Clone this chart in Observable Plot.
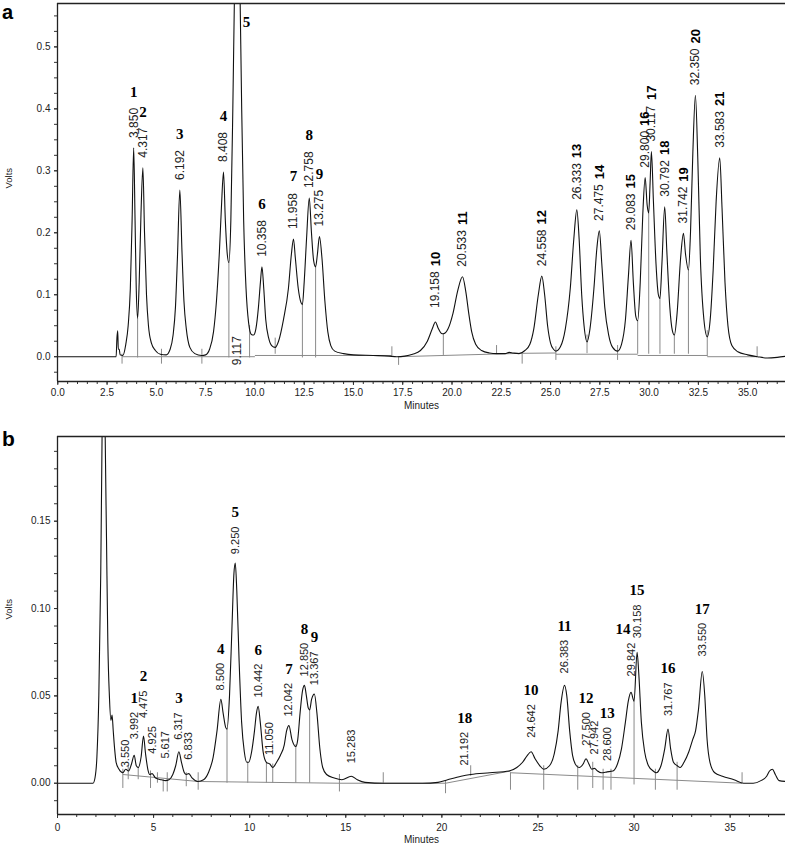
<!DOCTYPE html>
<html><head><meta charset="utf-8">
<script src="https://cdn.jsdelivr.net/npm/d3@7"></script>
<script src="https://cdn.jsdelivr.net/npm/@observablehq/plot@0.6"></script>
<style>
body{margin:0;background:#fff;}
#wrap{position:relative;width:787px;height:848px;overflow:hidden;background:#fff;}
#wrap svg{position:absolute;left:0;}
</style></head><body><div id="wrap"></div>
<script>
// ---------------- Panel a data ----------------
const traceA = [
[0.0,0],[2.96,0],[3.0,0.03],[3.04,0.042],[3.07,0.012],[3.12,0.012],[3.16,0.003],[3.3,0.002],
[3.45,0.02],[3.57,0.05],[3.68,0.11],[3.77,0.22],[3.85,0.337],[3.92,0.22],[3.98,0.11],[4.05,0.062],
[4.13,0.12],[4.22,0.23],[4.317,0.305],[4.4,0.2],[4.5,0.1],[4.6,0.05],[4.75,0.022],[4.95,0.01],[5.2,0.004],[5.5,0.003],
[5.7,0.012],[5.85,0.035],[5.97,0.08],[6.07,0.16],[6.192,0.269],[6.3,0.17],[6.4,0.09],[6.52,0.045],[6.7,0.015],[6.95,0.005],[7.3,0.002],
[7.5,0.003],[7.7,0.012],[7.9,0.04],[8.05,0.09],[8.2,0.17],[8.3,0.24],[8.408,0.298],[8.5,0.22],[8.6,0.165],[8.68,0.152],
[8.78,0.22],[8.88,0.4],[8.98,0.62],[9.117,0.8],[9.23,0.62],[9.33,0.4],[9.43,0.22],[9.55,0.11],[9.68,0.055],[9.82,0.036],[9.93,0.035],
[10.05,0.045],[10.18,0.08],[10.28,0.12],[10.358,0.145],[10.45,0.11],[10.55,0.06],[10.7,0.03],[10.85,0.018],[11.03,0.015],
[11.2,0.025],[11.45,0.06],[11.7,0.11],[11.85,0.165],[11.958,0.19],[12.05,0.16],[12.2,0.11],[12.33,0.088],[12.41,0.084],
[12.5,0.12],[12.62,0.19],[12.758,0.256],[12.87,0.2],[12.98,0.155],[13.08,0.145],[13.17,0.165],[13.275,0.194],[13.4,0.16],[13.55,0.09],
[13.7,0.04],[13.85,0.018],[14.05,0.009],[14.5,0.005],[15.0,0.003],[16.0,0.002],[16.8,0.001],[17.2,0.0],[17.6,0.001],
[18.0,0.004],[18.4,0.01],[18.75,0.025],[19.0,0.045],[19.158,0.056],[19.3,0.046],[19.45,0.038],[19.56,0.037],[19.8,0.045],[20.05,0.07],
[20.3,0.108],[20.533,0.129],[20.7,0.105],[20.85,0.07],[21.0,0.04],[21.2,0.02],[21.5,0.01],[21.9,0.006],[22.26,0.005],[22.7,0.005],
[22.9,0.007],[23.1,0.006],[23.4,0.005],[23.7,0.01],[23.95,0.02],[24.15,0.045],[24.38,0.1],[24.558,0.13],[24.7,0.1],[24.85,0.05],
[25.0,0.022],[25.15,0.012],[25.27,0.009],[25.5,0.016],[25.75,0.045],[26.0,0.11],[26.18,0.19],[26.333,0.237],[26.45,0.19],[26.58,0.1],
[26.7,0.05],[26.85,0.024],[27.0,0.045],[27.2,0.11],[27.35,0.175],[27.475,0.203],[27.6,0.15],[27.75,0.08],[27.95,0.035],[28.15,0.015],
[28.4,0.009],[28.6,0.02],[28.8,0.06],[28.95,0.13],[29.083,0.188],[29.2,0.12],[29.32,0.066],[29.42,0.058],[29.55,0.12],[29.68,0.23],
[29.8,0.289],[29.9,0.245],[29.98,0.232],[30.05,0.28],[30.117,0.331],[30.22,0.25],[30.35,0.15],[30.47,0.1],[30.55,0.094],
[30.65,0.15],[30.792,0.242],[30.9,0.17],[31.05,0.08],[31.18,0.042],[31.28,0.035],[31.42,0.07],[31.6,0.16],[31.742,0.199],[31.85,0.165],
[31.995,0.14],[32.1,0.2],[32.22,0.33],[32.35,0.422],[32.47,0.32],[32.6,0.16],[32.78,0.06],[32.95,0.032],[33.1,0.06],[33.25,0.14],
[33.4,0.25],[33.583,0.321],[33.7,0.24],[33.85,0.12],[34.0,0.05],[34.2,0.018],[34.5,0.008],[35.0,0.003],[35.5,0.0],[36.0,-0.002],
[36.5,-0.001],[37.0,0.001]
];
const peakTimeA   = [3.850,4.317,6.192,8.408,9.117,10.358,11.958,12.758,13.275,19.158,20.533,24.558,26.333,27.475,29.083,29.800,30.117,30.792,31.742,32.350,33.583];
const peakHeightA = [0.337,0.305,0.269,0.298,0.8,0.145,0.19,0.256,0.194,0.056,0.129,0.13,0.237,0.203,0.188,0.289,0.331,0.242,0.199,0.422,0.321];
const peakNumA    = [1,2,3,4,5,6,7,8,9,10,11,12,13,14,15,16,17,18,19,20,21];
// integration marks: [time, from, to]
const eventsA = [[3.26,-0.012,0.004],[4.05,-0.002,0.062],[5.26,-0.012,0.012],[7.31,-0.012,0.012],[8.68,-0.002,0.152],[9.73,-0.002,0.05],
[11.03,0.004,0.03],[12.41,-0.002,0.084],[13.08,-0.002,0.145],[16.95,0.001,0.016],[17.29,-0.014,0.0],[19.56,0.002,0.037],[22.26,0.004,0.018],
[23.56,-0.012,0.006],[25.27,-0.006,0.016],[26.85,0.005,0.035],[28.4,-0.006,0.018],[29.42,0.004,0.058],[29.98,0.004,0.232],[30.55,0.004,0.094],
[31.28,0.004,0.035],[31.995,0.004,0.14],[32.95,0.0,0.042],[35.48,0.0,0.016]];
const baselineA = [[3.26,0,10.0,0],[10.0,0.002,16.95,0.002],[17.29,0,23.56,0.0055],[23.56,0.0055,25.27,0.006],[25.27,0.004,29.42,0.004],
[29.42,0.002,32.95,0.002],[32.95,0.0,35.48,0.0]];

// ---------------- Panel b data ----------------
const traceB = [
[0,0],[1.85,0],[1.95,0.003],[2.05,0.015],[2.15,0.05],[2.25,0.12],[2.32,0.2],[2.4,0.3],[2.48,0.2],[2.55,0.14],[2.62,0.08],[2.7,0.05],
[2.78,0.036],[2.84,0.039],[2.9,0.03],[2.97,0.02],[3.05,0.012],[3.2,0.008],[3.4,0.006],[3.55,0.008],[3.7,0.007],[3.85,0.011],[3.992,0.016],
[4.1,0.01],[4.2,0.009],[4.35,0.015],[4.475,0.027],[4.58,0.017],[4.7,0.008],[4.8,0.005],[4.925,0.0055],[5.1,0.003],[5.4,0.002],[5.617,0.0015],
[5.8,0.002],[6.0,0.005],[6.15,0.01],[6.317,0.018],[6.45,0.012],[6.6,0.006],[6.7,0.005],[6.833,0.0055],[7.0,0.003],[7.3,0.001],[7.6,0.002],
[7.85,0.006],[8.1,0.015],[8.3,0.03],[8.5,0.048],[8.62,0.04],[8.75,0.032],[8.82,0.031],[8.95,0.05],[9.08,0.09],[9.18,0.12],[9.25,0.126],
[9.33,0.11],[9.45,0.07],[9.58,0.035],[9.72,0.018],[9.85,0.012],[9.95,0.012],[10.1,0.018],[10.25,0.03],[10.35,0.04],[10.442,0.044],
[10.55,0.035],[10.7,0.018],[10.87,0.012],[11.05,0.011],[11.2,0.009],[11.4,0.012],[11.6,0.016],[11.8,0.022],[11.92,0.03],[12.042,0.033],
[12.2,0.025],[12.4,0.021],[12.5,0.025],[12.62,0.04],[12.75,0.053],[12.85,0.056],[12.95,0.05],[13.05,0.043],[13.12,0.042],[13.22,0.048],
[13.367,0.051],[13.5,0.04],[13.65,0.02],[13.8,0.009],[14.0,0.005],[14.4,0.003],[14.8,0.002],[15.283,0.004],[15.6,0.002],[16.0,0.0005],
[17.0,0.0],[19.0,0.0],[19.8,0.0005],[20.3,0.002],[21.0,0.004],[21.5,0.005],[22.5,0.006],[23.5,0.007],[23.9,0.009],[24.2,0.012],
[24.45,0.016],[24.642,0.018],[24.85,0.014],[25.1,0.01],[25.3,0.008],[25.6,0.01],[25.85,0.017],[26.05,0.03],[26.2,0.046],[26.383,0.056],
[26.5,0.05],[26.65,0.03],[26.8,0.016],[27.0,0.01],[27.15,0.009],[27.35,0.011],[27.5,0.014],[27.65,0.011],[27.8,0.008],[27.942,0.0085],
[28.1,0.007],[28.3,0.006],[28.6,0.0065],[28.9,0.007],[29.1,0.01],[29.35,0.02],[29.55,0.035],[29.7,0.047],[29.842,0.052],[30.0,0.047],
[30.158,0.075],[30.25,0.062],[30.38,0.035],[30.55,0.018],[30.75,0.01],[31.0,0.007],[31.15,0.006],[31.4,0.01],[31.6,0.02],[31.767,0.031],
[31.9,0.02],[32.05,0.012],[32.25,0.01],[32.4,0.009],[32.6,0.012],[32.85,0.018],[33.05,0.025],[33.2,0.03],[33.35,0.042],[33.55,0.064],
[33.68,0.05],[33.8,0.025],[33.95,0.012],[34.2,0.006],[34.6,0.004],[35.2,0.002],[35.7,0.0],[36.2,0.0],[36.6,0.0015],[36.9,0.004],
[37.05,0.007],[37.2,0.008],[37.35,0.005],[37.55,0.0015],[37.9,0.001]
];
const labelTimeB = [3.550,3.992,4.475,4.925,5.617,6.317,6.833,8.500,9.250,10.442,11.050,12.042,12.850,13.367,15.283,21.192,24.642,26.383,27.500,27.942,28.600,29.842,30.158,31.767,33.550];
const labelHeightB = [0.008,0.016,0.027,0.0055,0.0015,0.018,0.0055,0.048,0.126,0.044,0.011,0.033,0.056,0.051,0.004,0.005,0.018,0.056,0.014,0.0085,0.0065,0.052,0.075,0.031,0.064];
const peakNumB = [null,1,2,null,null,3,null,4,5,6,null,7,8,9,null,18,10,11,12,null,13,14,15,16,17];
const eventsB = [[3.4,-0.003,0.008],[3.68,0.002,0.01],[4.2,0.002,0.009],[4.84,-0.003,0.007],[5.2,0.0,0.006],[5.5,-0.005,0.002],[5.71,-0.005,0.006],
[6.7,-0.002,0.006],[7.32,-0.004,0.006],[8.82,0.0,0.031],[9.9,0.0,0.012],[10.87,0.0,0.012],[11.2,0.0,0.011],[12.4,0.0,0.022],[13.12,0.0,0.042],
[14.67,-0.005,0.005],[16.95,0.0,0.006],[20.19,-0.006,0.001],[21.5,0.004,0.01],[23.57,-0.004,0.006],[25.3,-0.004,0.01],[27.07,-0.004,0.01],
[27.85,-0.003,0.012],[28.39,-0.004,0.008],[28.8,-0.004,0.008],[30.0,-0.001,0.047],[31.11,-0.004,0.008],[32.24,-0.004,0.012],[35.62,0.0,0.006]];
const baselineB = [[3.4,0.005,7.32,0.001],[7.32,0.001,14.67,0.0],[14.67,0.0,20.19,0.0],[20.19,0.0,23.57,0.007],[23.57,0.006,35.62,0.0]];

// ---------------- layout helpers ----------------
const SANS = "Liberation Sans, Arial, sans-serif";
const SERIF = "Liberation Serif, Times New Roman, serif";
function tw(s, size) { let w = 0; for (const c of s) w += (c === "." ? 0.278 : 0.556); return w * size; }

function panel(cfg) {
  const {height, mt, mb, xdom, ydom, trace, events, baseline, xticks, xminor, xfmt, yticks, yminor, yfmt, textMarks, tickPad} = cfg;
  const seg = baseline.map(d => ({x1: d[0], y1: d[1], x2: d[2], y2: d[3]}));
  const ev = events.map(d => ({t: d[0], a: d[1], b: d[2]}));
  const pts = trace.map(d => ({t: d[0], v: d[1]}));
  return Plot.plot({
    width: 787, height, marginLeft: 57, marginRight: 2, marginTop: mt, marginBottom: mb,
    x: {domain: xdom}, y: {domain: ydom},
    style: {fontFamily: SANS, fontSize: "10px", color: "#222", background: "white", overflow: "visible"},
    marks: [
      Plot.axisX({ticks: xminor, tickSize: 3, tickFormat: () => "", label: null, stroke: "#333"}),
      Plot.axisX({ticks: xticks, tickSize: 4, tickPadding: tickPad, tickFormat: xfmt, label: null, stroke: "#333"}),
      Plot.axisY({ticks: yminor, tickSize: 3, tickFormat: () => "", label: null, stroke: "#333"}),
      Plot.axisY({ticks: yticks, tickSize: 3, tickPadding: 4, tickFormat: yfmt, label: null, stroke: "#333"}),
      Plot.link(seg, {x1: "x1", y1: "y1", x2: "x2", y2: "y2", stroke: "#8a8a8a", strokeWidth: 1}),
      Plot.ruleX(ev, {x: "t", y1: "a", y2: "b", stroke: "#8a8a8a", strokeWidth: 1}),
      Plot.line(pts, {x: "t", y: "v", curve: "monotone-x", stroke: "#111", strokeWidth: 1.1, clip: true}),
      Plot.ruleX([xdom[0]], {stroke: "#222", strokeWidth: 1.3}),
      Plot.ruleY([ydom[0]], {stroke: "#222", strokeWidth: 1.3}),
      Plot.ruleY([ydom[1]], {stroke: "#222", strokeWidth: 1.3}),
      Plot.text(["Minutes"], {frameAnchor: "bottom", dy: cfg.minutesDy, fontSize: 10, fill: "#222"}),
      Plot.text(["Volts"], {frameAnchor: "left", dx: -49, dy: cfg.voltsDy, rotate: -90, fontSize: 9.5, fill: "#222"}),
      ...textMarks
    ]
  });
}

// ---------------- panel a ----------------
const ydomA = [-0.04, 0.57], xdomA = [-0.015, 36.92];
const vppA = (ydomA[1] - ydomA[0]) / (420 - 3 - 39);
const labA = peakTimeA.map((t, i) => ({t, h: peakHeightA[i], num: peakNumA[i], txt: t.toFixed(3), gap: peakNumA[i] === 10 ? 14 : 10}));
const regA = labA.filter(d => d.num !== 5);
const textA = [
  Plot.text(regA, {x: "t", y: d => d.h + d.gap * vppA, text: "txt", rotate: -90, textAnchor: "start", fontSize: 12, fill: "#222"}),
  Plot.text(regA.filter(d => d.num <= 9), {x: "t", y: d => d.h + (d.gap + tw(d.txt, 12) + 16) * vppA, text: d => String(d.num), fontSize: 15, fontWeight: "bold", fontFamily: SERIF, fill: "#000"}),
  Plot.text(regA.filter(d => d.num >= 10), {x: "t", y: d => d.h + (d.gap + tw(d.txt, 12) + 5) * vppA, text: d => String(d.num), rotate: -90, textAnchor: "start", fontSize: 13, fontWeight: "bold", fill: "#000"}),
  Plot.text(labA.filter(d => d.num === 5), {x: "t", y: () => 0, dy: -6, text: "txt", rotate: -90, textAnchor: "middle", fontSize: 12, fill: "#222"}),
  Plot.text(labA.filter(d => d.num === 5), {x: "t", y: () => ydomA[1], dx: 9, dy: 19, text: d => String(d.num), fontSize: 15, fontWeight: "bold", fontFamily: SERIF, fill: "#000"})
];
const svgA = panel({
  height: 420, mt: 3, mb: 39, xdom: xdomA, ydom: ydomA, trace: traceA, events: eventsA, baseline: baselineA,
  xticks: d3.range(0, 35.01, 2.5), xminor: d3.range(0, 36.9, 0.5), xfmt: d3.format(".1f"),
  yticks: d3.range(0, 0.501, 0.1), yminor: d3.range(-0.025, 0.56, 0.025), yfmt: d3.format(".1f"),
  textMarks: textA, tickPad: 3, minutesDy: 27, voltsDy: -4
});
svgA.style.top = "0px";

// ---------------- panel b ----------------
const ydomB = [-0.0179, 0.1985], xdomB = [0, 37.88];
const vppB = (ydomB[1] - ydomB[0]) / (428 - 16 - 34);
const mppB = (xdomB[1] - xdomB[0]) / (787 - 57 - 2);
const gapB = {"3.550": 2, "3.992": 16, "4.475": 18, "4.925": 20, "5.617": 22, "6.317": 12, "6.833": 14, "15.283": 13, "24.642": 14,
  "26.383": 12, "27.500": 13, "27.942": 14, "28.600": 11, "29.842": 16, "30.158": 14, "31.767": 13, "33.550": 15};
const numShiftB = {14: -8};
const labB = labelTimeB.map((t, i) => {
  const txt = t.toFixed(3);
  return {t, h: labelHeightB[i], num: peakNumB[i], txt, gap: gapB[txt] ?? 9};
});
const textB = [
  Plot.text(labB, {x: "t", y: d => d.h + d.gap * vppB, text: "txt", rotate: -90, textAnchor: "start", fontSize: 11, fill: "#222"}),
  Plot.text(labB.filter(d => d.num !== null), {x: d => d.t + (numShiftB[d.num] ?? 0) * mppB, y: d => d.h + (d.gap + tw(d.txt, 11) + 14) * vppB, text: d => String(d.num), fontSize: 15, fontWeight: "bold", fontFamily: SERIF, fill: "#000"})
];
const svgB = panel({
  height: 428, mt: 16, mb: 34, xdom: xdomB, ydom: ydomB, trace: traceB, events: eventsB, baseline: baselineB,
  xticks: d3.range(0, 35.01, 5), xminor: d3.range(0, 37.9, 1), xfmt: d3.format("d"),
  yticks: d3.range(0, 0.151, 0.05), yminor: d3.range(-0.01, 0.195, 0.01), yfmt: d3.format(".2f"),
  textMarks: textB, tickPad: 5, minutesDy: 28, voltsDy: -6
});
svgB.style.top = "420px";

for (const [svg, t, y, fs] of [[svgA, "a", 18.5, 20], [svgB, "b", 26, 21]]) {
  d3.select(svg).append("text").attr("x", 2).attr("y", y).attr("text-anchor", "start")
    .attr("font-family", SANS).attr("font-weight", "bold").attr("font-size", fs).attr("fill", "#000").text(t);
}
const wrap = document.getElementById("wrap");
wrap.appendChild(svgA);
wrap.appendChild(svgB);
</script></body></html>
